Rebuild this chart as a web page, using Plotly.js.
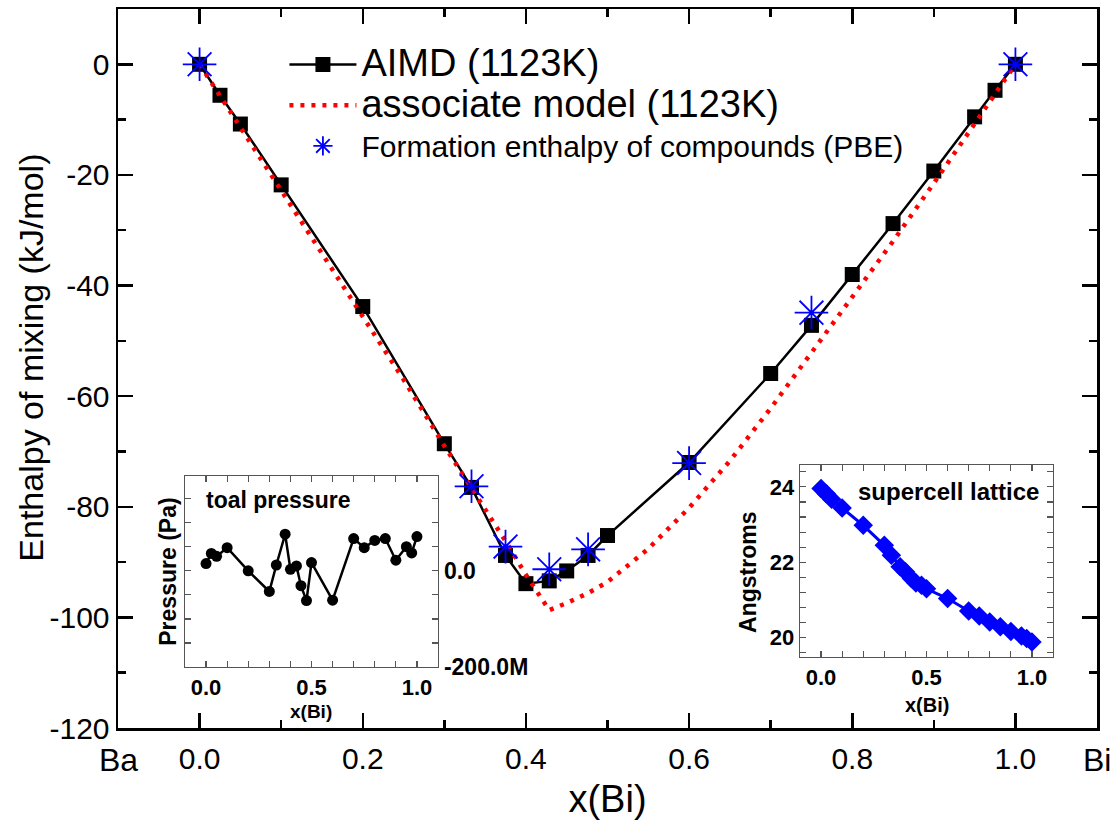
<!DOCTYPE html>
<html><head><meta charset="utf-8">
<script src="https://cdn.plot.ly/plotly-3.0.1.min.js"></script>
<style>html,body{margin:0;padding:0;background:#fff}#chart{width:1116px;height:821px}</style>
</head><body><div id="chart"></div>
<script>
// ---- data ----
const xAIMD = [0, 0.025, 0.05, 0.1, 0.2, 0.3, 0.3333, 0.375, 0.4, 0.4286, 0.45, 0.4762, 0.5, 0.6, 0.7, 0.75, 0.8, 0.85, 0.9, 0.95, 0.975, 1.0];
const hAIMD = [0, -5.6, -10.8, -21.8, -43.8, -68.6, -76.5, -88.8, -93.9, -93.4, -91.6, -88.8, -85.2, -72.0, -55.9, -47.2, -38.0, -28.8, -19.3, -9.5, -4.7, 0];

const xModel = [0, 0.025, 0.05, 0.1, 0.15, 0.2, 0.25, 0.3, 0.3333, 0.35, 0.375, 0.4, 0.4286, 0.45, 0.475, 0.5, 0.55, 0.6, 0.65, 0.7, 0.75, 0.8, 0.85, 0.9, 0.95, 0.975, 1.0];
const hModel = [0, -5.7, -11.3, -22.6, -34.0, -45.3, -57.0, -69.0, -76.6, -80.3, -86.2, -92.3, -98.7, -97.4, -95.7, -93.6, -87.6, -80.2, -71.7, -62.2, -52.2, -42.2, -32.0, -21.5, -10.8, -5.4, 0];

const xPBE = [0, 0.3333, 0.375, 0.4286, 0.4762, 0.6, 0.75, 1.0];
const hPBE = [0, -76.3, -87.2, -91.3, -87.7, -72.1, -44.9, 0];

const xInset = [0, 0.025, 0.05, 0.1, 0.2, 0.3, 0.3333, 0.375, 0.4, 0.4286, 0.45, 0.4762, 0.5, 0.6, 0.7, 0.75, 0.8, 0.85, 0.9, 0.95, 0.975, 1.0];
const pressure = [15e6, 36e6, 30e6, 48e6, 0, -43e6, 12e6, 76e6, 3e6, 10e6, -31e6, -62e6, 17e6, -61e6, 67e6, 48e6, 63e6, 67e6, 22e6, 50e6, 37e6, 71e6];
const lattice = [23.96, 23.82, 23.67, 23.44, 22.98, 22.45, 22.19, 21.88, 21.75, 21.57, 21.45, 21.39, 21.30, 21.04, 20.71, 20.58, 20.42, 20.29, 20.17, 20.05, 19.98, 19.89];

const mainYTicks = [0, -20, -40, -60, -80, -100, -120];
const mainYText = ['0', '-20', '-40', '-60', '-80', '-100', '-120'];
const insetXTicks = [0, 0.1, 0.2, 0.3, 0.4, 0.5, 0.6, 0.7, 0.8, 0.9, 1.0];
const insetXText = ['0.0', '', '', '', '', '0.5', '', '', '', '', '1.0'];
const pressTicks = [-200e6, -150e6, -100e6, -50e6, 0, 50e6, 100e6, 150e6];
const pressText = ['-200.0M', '', '', '', '0.0', '', '', ''];
const latTicks = [19.6, 20, 20.4, 20.8, 21.2, 21.6, 22, 22.4, 22.8, 23.2, 23.6, 24, 24.4];
const latText = ['', '20', '', '', '', '', '22', '', '', '', '', '24', ''];

const FONT = 'Arial, "Liberation Sans", sans-serif';
const BLUE = '#0000ff';

const traces = [
  {x: xAIMD, y: hAIMD, name: '<span style="font-size:38px">AIMD (1123K)</span>', type: 'scatter', mode: 'lines+markers',
   line: {color: '#000', width: 2.5}, marker: {symbol: 'square', size: 15, color: '#000'},
   xaxis: 'x', yaxis: 'y'},
  {x: xModel, y: hModel, name: '<span style="font-size:38px">associate model (1123K)</span>', type: 'scatter', mode: 'lines',
   line: {color: '#ff0000', width: 4.5, dash: '4px,7px'}, xaxis: 'x', yaxis: 'y'},
  {x: xPBE, y: hPBE, name: '<span style="font-size:30px">Formation enthalpy of compounds (PBE)</span>', type: 'scatter', mode: 'markers',
   marker: {symbol: 'asterisk-open', size: 28, color: BLUE, line: {color: BLUE, width: 1.8}}, xaxis: 'x', yaxis: 'y'},
  {x: xInset, y: pressure, type: 'scatter', mode: 'lines+markers', showlegend: false,
   line: {color: '#000', width: 2.5}, marker: {symbol: 'circle', size: 11, color: '#000'},
   xaxis: 'x2', yaxis: 'y2', cliponaxis: false},
  {x: xInset, y: lattice, type: 'scatter', mode: 'lines+markers', showlegend: false,
   line: {color: BLUE, width: 3}, marker: {symbol: 'diamond', size: 15, color: BLUE},
   xaxis: 'x3', yaxis: 'y3', cliponaxis: false}
];

function insetX(domain, anchor) {
  return {domain: domain, anchor: anchor, range: [-0.1, 1.1], tickmode: 'array', tickvals: insetXTicks, ticktext: insetXText,
    ticks: 'inside', ticklen: 6, tickwidth: 1.2, tickcolor: '#555', showline: true, linewidth: 1.3, linecolor: '#555',
    mirror: 'allticks', showgrid: false, zeroline: false,
    tickfont: {family: FONT, size: 22, color: '#000', weight: 'bold'}};
}

const layout = {
  width: 1116, height: 821,
  margin: {l: 118, r: 19, t: 9, b: 93},
  paper_bgcolor: '#fff', plot_bgcolor: 'rgba(0,0,0,0)',
  showlegend: true,
  legend: {x: 0.170, y: 0.958, xanchor: 'left', yanchor: 'top', bgcolor: 'rgba(0,0,0,0)',
    font: {family: FONT, size: 29, color: '#000'}, itemwidth: 67, tracegroupgap: 0},
  xaxis: {domain: [0, 1], anchor: 'y', range: [-0.1, 1.1], tick0: 0, dtick: 0.2, tickformat: '.1f',
    ticks: 'inside', ticklen: 15, tickwidth: 2.5, tickcolor: '#000',
    showline: true, linewidth: 2.5, linecolor: '#000', mirror: 'allticks', showgrid: false, zeroline: false,
    minor: {tick0: 0, dtick: 0.1, ticks: 'inside', ticklen: 8, tickwidth: 2.5, tickcolor: '#000', showgrid: false},
    tickfont: {family: FONT, size: 30, color: '#000'}, ticklabelstandoff: 2,
    title: {text: 'x(Bi)', font: {family: FONT, size: 38, color: '#000'}, standoff: 12}},
  yaxis: {domain: [0, 1], anchor: 'x', range: [-120, 10], tickmode: 'array', tickvals: mainYTicks, ticktext: mainYText,
    ticks: 'inside', ticklen: 15, tickwidth: 2.5, tickcolor: '#000',
    showline: true, linewidth: 2.5, linecolor: '#000', mirror: 'allticks', showgrid: false, zeroline: false,
    minor: {tickmode: 'linear', tick0: 0, dtick: 10, ticks: 'inside', ticklen: 8, tickwidth: 2.5, tickcolor: '#000', showgrid: false},
    tickfont: {family: FONT, size: 30, color: '#000'}, ticklabelstandoff: 0},
  xaxis2: insetX([0.0684, 0.3269], 'y2'),
  yaxis2: {domain: [0.0848, 0.3505], anchor: 'x2', side: 'right', range: [-200e6, 197e6], tickmode: 'array',
    tickvals: pressTicks, ticktext: pressText,
    ticks: 'inside', ticklen: 6, tickwidth: 1.2, tickcolor: '#555', showline: true, linewidth: 1.3, linecolor: '#555',
    mirror: 'allticks', showgrid: false, zeroline: false,
    tickfont: {family: FONT, size: 23, color: '#000', weight: 'bold'}},
  xaxis3: insetX([0.6966, 0.9551], 'y3'),
  yaxis3: {domain: [0.0987, 0.3658], anchor: 'x3', range: [19.49, 24.58], tickmode: 'array',
    tickvals: latTicks, ticktext: latText,
    ticks: 'inside', ticklen: 6, tickwidth: 1.2, tickcolor: '#555', showline: true, linewidth: 1.3, linecolor: '#555',
    mirror: 'allticks', showgrid: false, zeroline: false,
    tickfont: {family: FONT, size: 22, color: '#000', weight: 'bold'}},
  annotations: [
    {text: 'Enthalpy of mixing (kJ/mol)', xref: 'paper', yref: 'paper', x: -0.0889, y: 0.515, textangle: -90,
     showarrow: false, xanchor: 'center', yanchor: 'middle', font: {family: FONT, size: 34, color: '#000'}},
    {text: 'Ba', xref: 'x', yref: 'paper', x: -0.1, y: -0.0445, showarrow: false, xanchor: 'center', yanchor: 'middle',
     font: {family: FONT, size: 32, color: '#000'}},
    {text: 'Bi', xref: 'x', yref: 'paper', x: 1.1, y: -0.0445, showarrow: false, xanchor: 'center', yanchor: 'middle',
     font: {family: FONT, size: 32, color: '#000'}},
    {text: 'toal pressure', xref: 'paper', yref: 'paper', x: 0.0878, y: 0.317, showarrow: false, xanchor: 'left', yanchor: 'middle',
     font: {family: FONT, size: 23, color: '#000', weight: 'bold'}},
    {text: 'Pressure (Pa)', xref: 'paper', yref: 'paper', x: 0.0511, y: 0.2174, showarrow: false, textangle: -90,
     xanchor: 'center', yanchor: 'middle', font: {family: FONT, size: 23, color: '#000', weight: 'bold'}},
    {text: 'x(Bi)', xref: 'paper', yref: 'paper', x: 0.197, y: 0.0223, showarrow: false, xanchor: 'center', yanchor: 'middle',
     font: {family: FONT, size: 19, color: '#000', weight: 'bold'}},
    {text: 'supercell lattice', xref: 'paper', yref: 'paper', x: 0.8488, y: 0.3296, showarrow: false, xanchor: 'center', yanchor: 'middle',
     font: {family: FONT, size: 24, color: '#000', weight: 'bold'}},
    {text: 'Angstroms', xref: 'paper', yref: 'paper', x: 0.6435, y: 0.217, showarrow: false, textangle: -90,
     xanchor: 'center', yanchor: 'middle', font: {family: FONT, size: 23, color: '#000', weight: 'bold'}},
    {text: 'x(Bi)', xref: 'paper', yref: 'paper', x: 0.8264, y: 0.032, showarrow: false, xanchor: 'center', yanchor: 'middle',
     font: {family: FONT, size: 20, color: '#000', weight: 'bold'}}
  ]
};

Plotly.newPlot('chart', traces, layout, {displayModeBar: false, staticPlot: true});
</script>
</body></html>
